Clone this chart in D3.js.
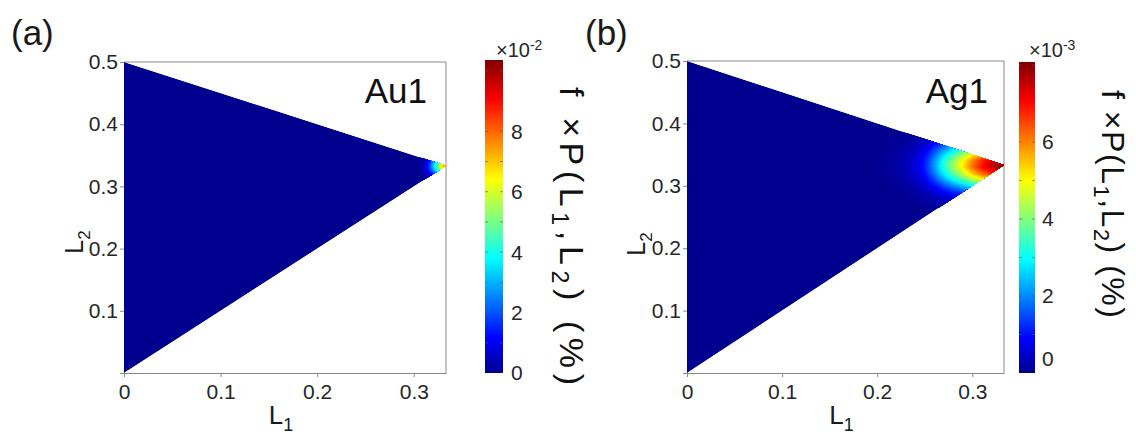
<!DOCTYPE html>
<html><head><meta charset="utf-8">
<script src="https://cdn.jsdelivr.net/npm/d3@7"></script>
<style>
body{margin:0;background:#fff}
svg{display:block}
</style>
</head><body>
<svg id="chart" width="1136" height="439" font-family="'Liberation Sans',Arial,Helvetica,sans-serif"></svg>
<script>
// ---------------- DATA ----------------
const xTickValues = [0, 0.1, 0.2, 0.3];
const xTickLabels = ["0", "0.1", "0.2", "0.3"];
const yTickValues = [0, 0.1, 0.2, 0.3, 0.4, 0.5];
const yTickLabels = ["", "0.1", "0.2", "0.3", "0.4", "0.5"];
const simplex = [[0, 0], [0, 0.5], [1/3, 1/3]];   // allowed (L1,L2) region

// Au1 : values in units of 1e-2 %
const auL1 = [0.300, 0.305, 0.310, 0.315, 0.320, 0.325, 0.330, 0.335, 0.340];
const auL2 = [0.310, 0.315, 0.320, 0.325, 0.330, 0.335, 0.340, 0.345, 0.350, 0.355];
const auValues = [
  [0, 0.01, 0.05, 0.21, 0.48, 0.77, 1.09, 1.28, 1.28],
  [0, 0.02, 0.10, 0.42, 0.96, 1.54, 2.18, 2.56, 2.56],
  [0, 0.03, 0.17, 0.73, 1.68, 2.69, 3.81, 4.48, 4.48],
  [0, 0.04, 0.24, 1.04, 2.40, 3.84, 5.44, 6.40, 6.40],
  [0, 0.05, 0.29, 1.26, 2.91, 4.66, 6.60, 7.76, 7.76],
  [0, 0.05, 0.30, 1.29, 2.97, 4.75, 6.73, 7.92, 7.92],
  [0, 0.04, 0.25, 1.09, 2.52, 4.03, 5.71, 6.72, 6.72],
  [0, 0.03, 0.18, 0.79, 1.83, 2.93, 4.15, 4.88, 4.88],
  [0, 0.02, 0.11, 0.48, 1.11, 1.78, 2.52, 2.96, 2.96],
  [0, 0.01, 0.06, 0.25, 0.57, 0.91, 1.29, 1.52, 1.52]
];
const auCbarMax = 10.36;
const auCbarMinor = [0, 1, 2, 3, 4, 5, 6, 7, 8, 9, 10];
const auCbarLabels = [0, 2, 4, 6, 8];

// Ag1 : values in units of 1e-3 %
const agL1 = [0.20, 0.21, 0.22, 0.23, 0.24, 0.25, 0.26, 0.27, 0.28, 0.29, 0.30, 0.31, 0.32, 0.33, 0.34];
const agL2 = [0.27, 0.28, 0.29, 0.30, 0.31, 0.32, 0.33, 0.34, 0.35, 0.36, 0.37, 0.38, 0.39];
const agValues = [
  [0.00,0.00,0.01,0.02,0.04,0.07,0.14,0.21,0.28,0.34,0.40,0.46,0.50,0.52,0.53],
  [0.00,0.01,0.02,0.04,0.09,0.16,0.30,0.46,0.61,0.74,0.88,1.00,1.09,1.15,1.16],
  [0.01,0.02,0.04,0.08,0.17,0.31,0.59,0.90,1.18,1.43,1.71,1.93,2.10,2.23,2.24],
  [0.01,0.03,0.07,0.14,0.28,0.52,0.99,1.50,1.97,2.40,2.87,3.24,3.53,3.74,3.76],
  [0.02,0.05,0.11,0.21,0.42,0.77,1.47,2.24,2.94,3.57,4.27,4.83,5.25,5.57,5.60],
  [0.03,0.06,0.13,0.27,0.53,0.98,1.87,2.85,3.74,4.54,5.43,6.14,6.68,7.08,7.12],
  [0.03,0.07,0.15,0.30,0.60,1.10,2.10,3.20,4.20,5.10,6.10,6.90,7.50,7.95,8.00],
  [0.03,0.07,0.15,0.29,0.58,1.07,2.04,3.10,4.07,4.95,5.92,6.69,7.28,7.71,7.76],
  [0.02,0.06,0.12,0.25,0.49,0.90,1.72,2.62,3.44,4.18,5.00,5.66,6.15,6.52,6.56],
  [0.02,0.04,0.09,0.18,0.37,0.67,1.28,1.95,2.56,3.11,3.72,4.21,4.58,4.85,4.88],
  [0.01,0.03,0.06,0.12,0.23,0.43,0.82,1.25,1.64,1.99,2.38,2.69,2.93,3.10,3.12],
  [0.01,0.02,0.03,0.07,0.13,0.24,0.46,0.70,0.92,1.12,1.34,1.52,1.65,1.75,1.76],
  [0.00,0.01,0.02,0.03,0.07,0.12,0.23,0.35,0.46,0.56,0.67,0.76,0.83,0.87,0.88]
];
const agCbarMax = 8.08;
const agCbarMinor = [0, 1, 2, 3, 4, 5, 6, 7, 8];
const agCbarLabels = [0, 2, 4, 6];

// jet colormap (MATLAB)
const jetStops = [0, 7/63, 23/63, 39/63, 55/63, 1];
const jetColors = ["#00008f", "#0000ff", "#00ffff", "#ffff00", "#ff0000", "#800000"];

// ---------------- LAYOUT ----------------
const FONT = "'Liberation Sans',Arial,Helvetica,sans-serif";
const panels = [
  {id:"a", tag:"(a)", tagX:11, name:"Au1", nameX:427,
   left:124, right:446, top:62, bottom:373,
   l1:auL1, l2:auL2, values:auValues, cmax:auCbarMax, minor:auCbarMinor, labels:auCbarLabels, step:0.04,
   cbX:485, cbW:18, cbTop:60, cbBottom:373, cbLabelX:511, exp:"-2", expX:496,
   titleX:560, titleY:87, titleLen:298, titleSize:34, zeroShift:0,
   yLabX:83, yLabY:242},
  {id:"b", tag:"(b)", tagX:585, name:"Ag1", nameX:988,
   left:687, right:1004, top:61, bottom:373,
   l1:agL1, l2:agL2, values:agValues, cmax:agCbarMax, minor:agCbarMinor, labels:agCbarLabels, step:0.03,
   cbX:1019, cbW:16, cbTop:62, cbBottom:373, cbLabelX:1042, exp:"-3", expX:1029,
   titleX:1102, titleY:90, titleLen:228, titleSize:32, zeroShift:-14,
   yLabX:645, yLabY:244}
];

const svg = d3.select("#chart");
const defs = svg.append("defs");
const axisColor = "#8a8a8a";
const textColor = "#262626";

panels.forEach(p => {
  const g = svg.append("g");
  const x = d3.scaleLinear().domain([0, 1/3]).range([p.left, p.right]);
  const y = d3.scaleLinear().domain([0, 0.5]).range([p.bottom, p.top]);
  const color = d3.scaleLinear()
    .domain(jetStops.map(s => s * p.cmax))
    .range(jetColors).clamp(true);

  // box
  g.append("path")
    .attr("d", `M${x(0)},${y(0.5)}H${x(1/3)}V${y(0)}`)
    .attr("fill", "none").attr("stroke", axisColor).attr("stroke-width", 1);

  // axes
  const xAxis = d3.axisBottom(x).tickValues(xTickValues)
    .tickFormat((d, i) => xTickLabels[i]).tickSize(4).tickSizeOuter(0).tickPadding(7);
  const yAxis = d3.axisLeft(y).tickValues(yTickValues)
    .tickFormat((d, i) => yTickLabels[i]).tickSize(4).tickSizeOuter(0).tickPadding(2);
  [ [xAxis, `translate(0,${p.bottom})`], [yAxis, `translate(${p.left},0)`] ].forEach(([ax, tr]) => {
    const a = g.append("g").attr("transform", tr).call(ax)
      .attr("font-size", 21).attr("font-family", FONT);
    a.select(".domain").attr("stroke", axisColor);
    a.selectAll(".tick line").attr("stroke", axisColor);
    a.selectAll(".tick text").attr("fill", textColor);
  });

  // clip to simplex
  const clipId = "clip-" + p.id;
  const pts = simplex.map(d => [x(d[0]), y(d[1])].join(",")).join(" ");
  defs.append("clipPath").attr("id", clipId).append("polygon").attr("points", pts);

  const heat = g.append("g").attr("clip-path", `url(#${clipId})`);
  heat.append("polygon").attr("points", pts).attr("fill", color(0));

  const n = p.l1.length, m = p.l2.length;
  const flat = p.values.flat();
  const thresholds = d3.range(p.step, d3.max(flat), p.step);
  const contours = d3.contours().size([n, m]).thresholds(thresholds)(flat);
  const gx = d3.scaleLinear().domain([0.5, n - 0.5]).range([p.l1[0], p.l1[n - 1]]);
  const gy = d3.scaleLinear().domain([0.5, m - 0.5]).range([p.l2[0], p.l2[m - 1]]);
  const proj = d3.geoTransform({point(px, py) { this.stream.point(x(gx(px)), y(gy(py))); }});
  const path = d3.geoPath(proj);
  heat.selectAll("path.band").data(contours).join("path")
    .attr("class", "band")
    .attr("d", path)
    .attr("fill", d => color(d.value + p.step / 2))
    .attr("stroke", d => color(d.value + p.step / 2))
    .attr("stroke-width", 0.4);

  // panel tag and name
  g.append("text").attr("x", p.tagX).attr("y", 45).attr("font-size", 35)
    .attr("fill", "#1a1a1a").text(p.tag);
  g.append("text").attr("x", p.nameX).attr("y", 103).attr("font-size", 35)
    .attr("text-anchor", "end").attr("fill", "#111").text(p.name);

  // axis labels
  const xl = g.append("text").attr("x", (p.left + p.right) / 2 - 4).attr("y", 424)
    .attr("font-size", 26).attr("fill", "#1a1a1a").attr("text-anchor", "middle");
  xl.append("tspan").text("L");
  xl.append("tspan").attr("font-size", 18).attr("dy", 7).text("1");
  const yl = g.append("text").attr("transform", `translate(${p.yLabX},${p.yLabY}) rotate(-90)`)
    .attr("font-size", 25).attr("fill", "#1a1a1a").attr("text-anchor", "middle");
  yl.append("tspan").text("L");
  yl.append("tspan").attr("font-size", 17).attr("dy", 7).text("2");

  // colorbar
  const gradId = "grad-" + p.id;
  const grad = defs.append("linearGradient").attr("id", gradId)
    .attr("x1", 0).attr("y1", 1).attr("x2", 0).attr("y2", 0);
  jetStops.forEach((s, i) => grad.append("stop").attr("offset", s).attr("stop-color", jetColors[i]));
  const cy = d3.scaleLinear().domain([0, p.cmax]).range([p.cbBottom, p.cbTop]);
  g.append("rect").attr("x", p.cbX).attr("y", cy(p.cmax)).attr("width", p.cbW)
    .attr("height", cy(0) - cy(p.cmax)).attr("fill", `url(#${gradId})`);
  g.append("g").selectAll("g").data(p.minor.filter(v => v > 0)).join("g").each(function(v) {
    const s = d3.select(this);
    s.append("line").attr("x1", p.cbX).attr("x2", p.cbX + 3).attr("y1", cy(v)).attr("y2", cy(v))
      .attr("stroke", "#555").attr("stroke-opacity", 0.6);
    s.append("line").attr("x1", p.cbX + p.cbW - 3).attr("x2", p.cbX + p.cbW).attr("y1", cy(v)).attr("y2", cy(v))
      .attr("stroke", "#555").attr("stroke-opacity", 0.6);
  });
  g.selectAll("text.cbl").data(p.labels).join("text").attr("class", "cbl")
    .attr("x", p.cbLabelX).attr("y", v => cy(v) + (v === 0 ? p.zeroShift : 0))
    .attr("dy", "0.35em").attr("font-size", 21).attr("fill", textColor).text(v => v);
  const ex = g.append("text").attr("x", p.expX).attr("y", 57).attr("font-size", 20).attr("fill", textColor);
  ex.append("tspan").text("\u00d710");
  ex.append("tspan").attr("font-size", 14).attr("dy", -7).text(p.exp);

  // colorbar title
  const t = g.append("text")
    .attr("transform", `translate(${p.titleX},${p.titleY}) rotate(90)`)
    .attr("font-size", p.titleSize).attr("fill", "#111")
    .attr("textLength", p.titleLen).attr("lengthAdjust", "spacing");
  t.append("tspan").text("f \u00d7P(L");
  t.append("tspan").attr("font-size", p.titleSize * 0.68).attr("dy", p.titleSize * 0.25).text("1");
  t.append("tspan").attr("dy", -p.titleSize * 0.25).text(",L");
  t.append("tspan").attr("font-size", p.titleSize * 0.68).attr("dy", p.titleSize * 0.25).text("2");
  t.append("tspan").attr("dy", -p.titleSize * 0.25).text(") (%)");
});
</script>
</body></html>
